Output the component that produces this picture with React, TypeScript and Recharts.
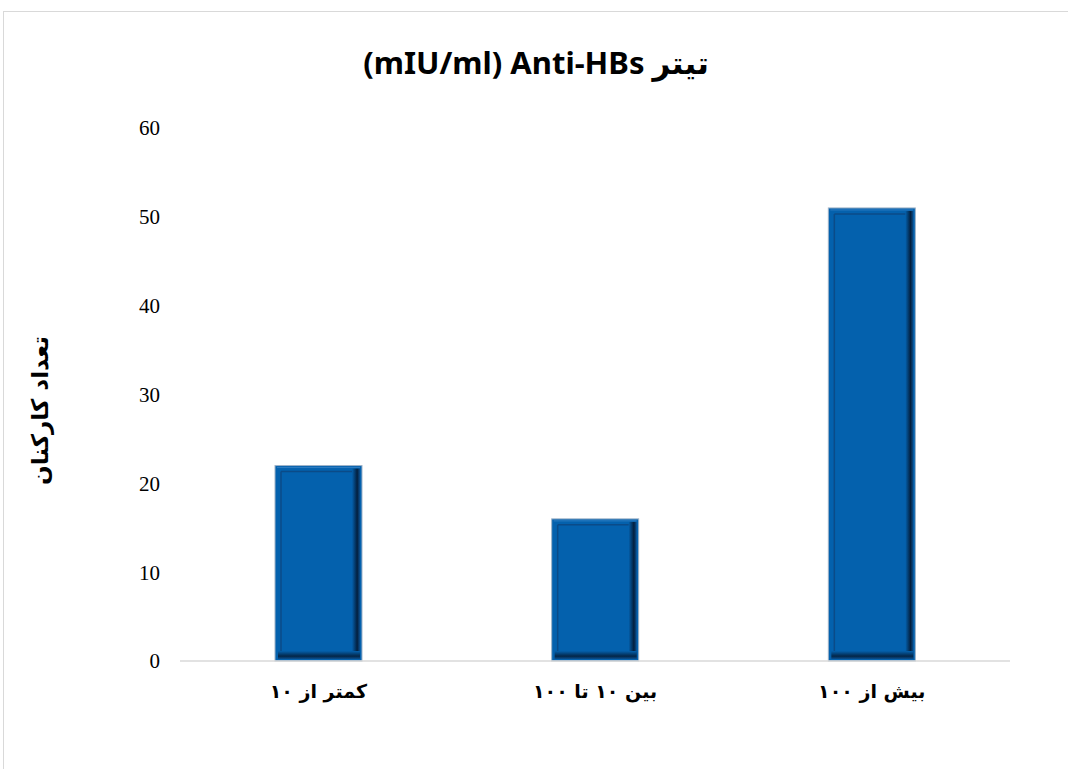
import React from 'react';
import { BarChart, Bar, XAxis, YAxis } from 'recharts';

const categories = ['کمتر از ۱۰', 'بین ۱۰ تا ۱۰۰', 'بیش از ۱۰۰'];
const counts = [22, 16, 51];
const yTicks = [0, 10, 20, 30, 40, 50, 60];

const data = categories.map((name, i) => ({ name, count: counts[i] }));

const BevelBar = (props: any) => {
  const { x, y, width, height, index } = props;
  if (!height || height <= 0) return null;
  const b = 10;
  const id = `bv-${index}`;
  return (
    <g>
      <defs>
        <linearGradient id={`${id}-r`} x1="0" y1="0" x2="1" y2="0">
          <stop offset="0" stopColor="#0460ac" />
          <stop offset="0.65" stopColor="#031f3d" />
          <stop offset="1" stopColor="#0b4f8e" />
        </linearGradient>
        <linearGradient id={`${id}-b`} x1="0" y1="0" x2="0" y2="1">
          <stop offset="0" stopColor="#0460ac" />
          <stop offset="0.65" stopColor="#042648" />
          <stop offset="1" stopColor="#0b4f8e" />
        </linearGradient>
      </defs>
      <rect x={x} y={y} width={width} height={height} fill="#0461ad" stroke="#9fb3c8" strokeWidth={1} />
      <rect x={x + width - b} y={y + 3} width={b - 2} height={height - 5} fill={`url(#${id}-r)`} />
      <rect x={x + 3} y={y + height - b} width={width - 5} height={b - 2} fill={`url(#${id}-b)`} />
      <line x1={x + 6} y1={y + 6} x2={x + width - b} y2={y + 6} stroke="#0b4b88" strokeWidth={1.5} />
      <line x1={x + 6} y1={y + 6} x2={x + 6} y2={y + height - b} stroke="#0b4b88" strokeWidth={1.5} />
      <line x1={x + 2} y1={y + 2} x2={x + width - 2} y2={y + 2} stroke="#2d7cc2" strokeWidth={1} />
    </g>
  );
};

export default function App() {
  return (
    <div style={{ position: 'absolute', left: 0, top: 0, width: 1068, height: 769, background: '#fff', overflow: 'hidden' }}>
      <div
        style={{
          position: 'absolute',
          left: 3,
          top: 11,
          width: 1100,
          height: 800,
          borderLeft: '1.5px solid #d9d9d9',
          borderTop: '1.5px solid #d9d9d9',
        }}
      />
      <div
        style={{
          position: 'absolute',
          left: 0,
          top: 42,
          width: 1072,
          textAlign: 'center',
          fontFamily: '"Noto Sans", "DejaVu Sans", sans-serif',
          fontWeight: 700,
          fontSize: 31,
          lineHeight: '40px',
          color: '#000',
          direction: 'ltr',
        }}
      >
        (mIU/ml) Anti-HBs تیتر
      </div>
      <BarChart
        width={1068}
        height={769}
        data={data}
        margin={{ top: 128, right: 58, left: 120, bottom: 38 }}
        style={{ position: 'absolute', left: 0, top: 0 }}
      >
        <XAxis
          dataKey="name"
          axisLine={{ stroke: '#d9d9d9', strokeWidth: 1.5 }}
          tickLine={false}
          height={70}
          tickMargin={18}
          tick={{ fill: '#000', fontSize: 19, fontWeight: 700, fontFamily: '"DejaVu Sans", "Noto Sans", sans-serif' }}
        />
        <YAxis
          domain={[0, 60]}
          ticks={yTicks}
          axisLine={false}
          tickLine={false}
          width={60}
          tickMargin={14}
          tick={{ fill: '#000', fontSize: 21, fontFamily: '"Liberation Serif", "Times New Roman", serif' }}
          label={{
            value: 'تعداد کارکنان',
            angle: -90,
            position: 'insideLeft',
            offset: 0,
            dx: -80,
            dy: 16,
            style: { textAnchor: 'middle', fill: '#000', fontSize: 23, fontWeight: 700, fontFamily: '"DejaVu Sans", "Noto Sans", sans-serif' },
          }}
        />
        <Bar dataKey="count" barSize={87} shape={<BevelBar />} isAnimationActive={false} />
      </BarChart>
    </div>
  );
}
